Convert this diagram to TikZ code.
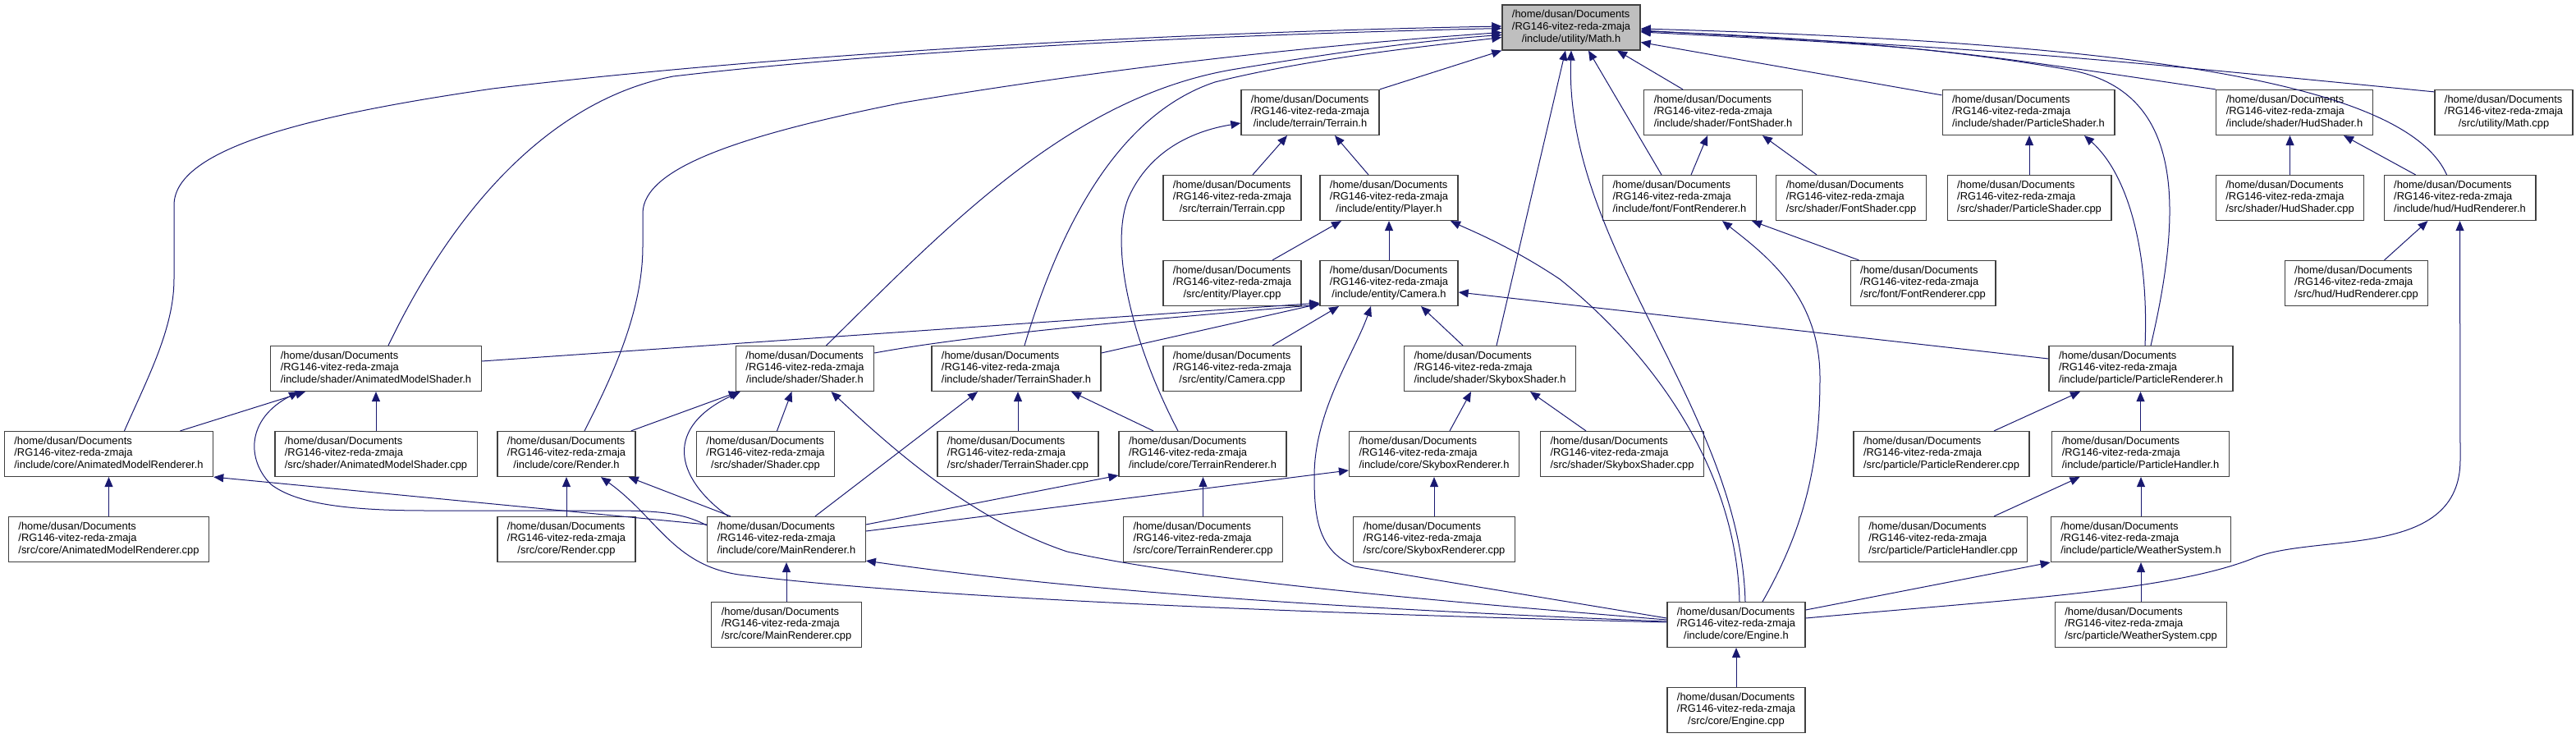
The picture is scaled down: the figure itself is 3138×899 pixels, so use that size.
\documentclass[tikz,border=0pt]{standalone}
\usepackage{fontspec}
\setmainfont{Liberation Sans}
\usetikzlibrary{arrows.meta}
\definecolor{cedge}{HTML}{191970}
\definecolor{cbox}{HTML}{404040}
\definecolor{cgray}{HTML}{BFBFBF}
\tikzset{file/.style={draw=cbox,line width=0.65pt,fill=white,inner xsep=6pt,inner ysep=2.7pt,font=\fontsize{6.45}{7.35}\selectfont},
  inc/.style={cedge,line width=0.5pt,-{Triangle[length=6pt,width=5pt]}}}
\newcommand{\fpath}[1]{\begin{tabular}{@{}l@{}}/home/dusan/Documents\\/RG146-vitez-reda-zmaja\\\multicolumn{1}{@{}c@{}}{#1}\end{tabular}}

\begin{document}
\begin{tikzpicture}[x=0.5pt,y=-0.5pt]
\useasboundingbox (0,0) rectangle (3138,899);
\node[file,fill=cgray] (mathh) at (1914,33.5) {\fpath{/include/utility/Math.h}};
\foreach \nm/\xx/\yy/\lab in {%
   terrainh/1596/137/{/include/terrain/Terrain.h},
   fontshaderh/2099/137/{/include/shader/FontShader.h},
   particleshaderh/2471/137/{/include/shader/ParticleShader.h},
   hudshaderh/2795/137/{/include/shader/HudShader.h},
   mathcpp/3050/137/{/src/utility/Math.cpp},
   terraincpp/1501/241/{/src/terrain/Terrain.cpp},
   playerh/1692/241/{/include/entity/Player.h},
   fontrendh/2046/241/{/include/font/FontRenderer.h},
   fontshadercpp/2255/241/{/src/shader/FontShader.cpp},
   particleshadercpp/2472/241/{/src/shader/ParticleShader.cpp},
   hudshadercpp/2789.5/241/{/src/shader/HudShader.cpp},
   hudrendh/2996.5/241/{/include/hud/HudRenderer.h},
   playercpp/1501/345/{/src/entity/Player.cpp},
   camerah/1692/345/{/include/entity/Camera.h},
   fontrendcpp/2342.5/345/{/src/font/FontRenderer.cpp},
   hudrendcpp/2870.5/345/{/src/hud/HudRenderer.cpp},
   animshaderh/458/449/{/include/shader/AnimatedModelShader.h},
   shaderh/980.5/449/{/include/shader/Shader.h},
   terrainshaderh/1238/449/{/include/shader/TerrainShader.h},
   cameracpp/1501/449/{/src/entity/Camera.cpp},
   skyboxshaderh/1815/449/{/include/shader/SkyboxShader.h},
   particlerendh/2608/449/{/include/particle/ParticleRenderer.h},
   animrendh/132.5/553/{/include/core/AnimatedModelRenderer.h},
   animshadercpp/458/553/{/src/shader/AnimatedModelShader.cpp},
   renderh/690/553/{/include/core/Render.h},
   shadercpp/932.5/553/{/src/shader/Shader.cpp},
   terrainshadercpp/1240/553/{/src/shader/TerrainShader.cpp},
   terrainrendh/1465/553/{/include/core/TerrainRenderer.h},
   skyboxrendh/1747/553/{/include/core/SkyboxRenderer.h},
   skyboxshadercpp/1976/553/{/src/shader/SkyboxShader.cpp},
   particlerendcpp/2365/553/{/src/particle/ParticleRenderer.cpp},
   particlehandlerh/2607.5/553/{/include/particle/ParticleHandler.h},
   animrendcpp/132.5/657/{/src/core/AnimatedModelRenderer.cpp},
   rendercpp/690/657/{/src/core/Render.cpp},
   mainrendh/958/657/{/include/core/MainRenderer.h},
   terrainrendcpp/1465.5/657/{/src/core/TerrainRenderer.cpp},
   skyboxrendcpp/1747/657/{/src/core/SkyboxRenderer.cpp},
   particlehandlercpp/2367/657/{/src/particle/ParticleHandler.cpp},
   weatherh/2608/657/{/include/particle/WeatherSystem.h},
   mainrendcpp/958/761/{/src/core/MainRenderer.cpp},
   engineh/2115/761/{/include/core/Engine.h},
   weathercpp/2608/761/{/src/particle/WeatherSystem.cpp},
   enginecpp/2115/865/{/src/core/Engine.cpp}}{
  \node[file] (\nm) at (\xx,\yy) {\fpath{\lab}};
}
% straight up
\foreach \tl/\hd in {particleshadercpp/particleshaderh,camerah/playerh,animshadercpp/animshaderh,
   animrendcpp/animrendh,terrainshadercpp/terrainshaderh,rendercpp/renderh,terrainrendcpp/terrainrendh,
   skyboxrendcpp/skyboxrendh,mainrendcpp/mainrendh,enginecpp/engineh,particlehandlerh/particlerendh,
   weatherh/particlehandlerh,weathercpp/weatherh,hudshadercpp/hudshaderh}
  \draw[inc] (\tl.north) -- (\tl.north |- \hd.south);
% into Math.h
\draw[inc] (terrainh.north east) -- (mathh.south west);
\draw[inc] ([xshift=-24.5pt]fontshaderh.north) -- ([xshift=28pt]mathh.south);
\draw[inc] ([yshift=-3.5pt]particleshaderh.north west) -- ([yshift=-9pt]mathh.east);
\draw[inc] ([xshift=4pt]skyboxshaderh.north) -- ([xshift=-3.5pt]mathh.south);
\draw[inc] ([xshift=-11pt]fontrendh.north) -- ([xshift=10.5pt]mathh.south);
\draw[inc] (hudshaderh.north west) .. controls (2351,57) .. ([yshift=-2.75pt]mathh.east);
\draw[inc] ([yshift=-1.5pt]mathcpp.north west) .. controls (2477,64) .. ([yshift=-1.75pt]mathh.east);
\draw[inc] ([xshift=-8pt]hudrendh.north) .. controls (2930,100) and (2600,52) .. ([yshift=-0.75pt]mathh.east);
\draw[inc] ([xshift=6pt]particlerendh.north) .. controls (2660,250) and (2660,110) .. (2520,85)
   .. controls (2380,60) and (2200,45) .. ([yshift=-2.25pt]mathh.east);
\draw[inc] ([xshift=7.5pt]animshaderh.north) .. controls (560,240) and (680,120) .. (820,93)
   .. controls (1100,60) and (1500,42) .. ([yshift=-0.5pt]mathh.west);
\draw[inc] ([xshift=9.5pt]animrendh.north) .. controls (180,460) and (212,400) .. (212,340) -- (212,250)
   .. controls (212,180) and (380,140) .. (600,108) .. controls (1000,60) and (1500,38) .. ([yshift=0.75pt]mathh.west);
\draw[inc] ([xshift=11pt]renderh.north) .. controls (745,460) and (783,380) .. (783,300) -- (783,260)
   .. controls (783,205) and (900,165) .. (1100,125) .. controls (1400,75) and (1650,52) .. ([yshift=-3pt]mathh.west);
\draw[inc] ([xshift=13pt]shaderh.north) .. controls (1150,280) and (1300,120) .. (1500,85)
   .. controls (1650,60) and (1750,48) .. ([yshift=-4.5pt]mathh.west);
\draw[inc] ([xshift=5pt]terrainshaderh.north) .. controls (1290,280) and (1360,140) .. (1480,100)
   .. controls (1600,70) and (1750,55) .. ([yshift=-6pt]mathh.west);
\draw[inc] ([xshift=5.5pt]engineh.north) .. controls (2120,500) and (1905,300) .. (mathh.south);
% second row
\draw[inc] ([xshift=12.5pt]terraincpp.north) -- ([xshift=-14pt]terrainh.south);
\draw[inc] ([xshift=-12.5pt]playerh.north) -- ([xshift=15pt]terrainh.south);
\draw[inc] ([xshift=-15pt]terrainrendh.north) .. controls (1380,420) and (1350,300) .. (1375,240)
   .. controls (1400,185) and (1450,160) .. ([yshift=-6.5pt]terrainh.west);
\draw[inc] ([xshift=24.5pt]playercpp.north) -- ([xshift=-29pt]playerh.south);
\draw[inc] ([xshift=2pt]engineh.north) .. controls (2115,560) and (2000,420) .. (1900,340)
   .. controls (1840,300) and (1790,280) .. ([xshift=37.5pt]playerh.south);
\draw[inc] ([xshift=7pt]fontrendh.north) -- ([xshift=-9.5pt]fontshaderh.south);
\draw[inc] ([xshift=-21pt]fontshadercpp.north) -- ([xshift=24pt]fontshaderh.south);
\draw[inc] ([xshift=-39pt]fontrendcpp.north) -- ([xshift=44pt]fontrendh.south);
\draw[inc] ([xshift=16pt]engineh.north) .. controls (2200,640) and (2217,560) .. (2217,460)
   .. controls (2217,360) and (2150,310) .. ([xshift=26pt]fontrendh.south);
\draw[inc] ([xshift=2.5pt]particlerendh.north) .. controls (2618,300) and (2590,210) .. ([xshift=34pt]particleshaderh.south);
\draw[inc] ([xshift=-27pt]hudrendh.north) -- ([xshift=30pt]hudshaderh.south);
\draw[inc] ([xshift=17pt]hudrendcpp.north) -- ([xshift=-19.5pt]hudrendh.south);
\draw[inc] ([yshift=4pt]engineh.east) .. controls (2450,730) and (2650,720) .. (2750,678)
   .. controls (2830,650) and (2997,680) .. (2997,560) -- (hudrendh.south);
% Camera.h
\draw[inc] ([yshift=4.5pt]animshaderh.east) -- ([yshift=2pt]camerah.south west);
\draw[inc] ([yshift=9.5pt]shaderh.east) .. controls (1200,405) and (1450,385) .. ([yshift=1pt]camerah.south west);
\draw[inc] ([yshift=9.5pt]terrainshaderh.east) -- ([yshift=1.5pt]camerah.south west);
\draw[inc] ([xshift=24.5pt]cameracpp.north) -- ([xshift=-30.5pt]camerah.south);
\draw[inc] ([xshift=-16.5pt]skyboxshaderh.north) -- ([xshift=19.5pt]camerah.south);
\draw[inc] ([yshift=6pt]particlerendh.west) -- ([yshift=-5.5pt]camerah.east);
\draw[inc] ([yshift=4pt]engineh.west) -- (1650,690) .. controls (1605,670) and (1601,630) .. (1601,580)
   .. controls (1601,500) and (1650,430) .. ([xshift=-11pt]camerah.south);
% lower rows
\draw[inc] ([xshift=43.5pt]animrendh.north) -- ([xshift=-43pt]animshaderh.south);
\draw[inc] ([yshift=8.5pt]mainrendh.west) .. controls (830,624) and (800,622) .. (740,622) -- (520,622)
   .. controls (420,622) and (360,613) .. (330,590) .. controls (300,560) and (300,510) .. ([xshift=-47pt]animshaderh.south);
\draw[inc] ([yshift=9pt]mainrendh.west) -- (animrendh.south east);
\draw[inc] ([xshift=-3pt]renderh.north east) -- ([xshift=2pt]shaderh.south west);
\draw[inc] ([xshift=-35.5pt]mainrendh.north) .. controls (820,580) and (810,520) .. ([xshift=3pt]shaderh.south west);
\draw[inc] ([xshift=7pt]shadercpp.north) -- ([xshift=-8pt]shaderh.south);
\draw[inc] ([yshift=3pt]engineh.west) .. controls (1700,728) and (1450,705) .. (1300,672)
   .. controls (1180,632) and (1080,540) .. ([xshift=16pt]shaderh.south);
\draw[inc] ([xshift=17.5pt]mainrendh.north) -- ([xshift=-23.5pt]terrainshaderh.south);
\draw[inc] ([xshift=-30pt]terrainrendh.north) -- ([xshift=33.5pt]terrainshaderh.south);
\draw[inc] ([xshift=-34pt]mainrendh.north) -- ([xshift=-4.5pt]renderh.south east);
\draw[inc] ([yshift=1.5pt]engineh.west) .. controls (1500,745) and (1100,725) .. (900,700)
   .. controls (820,688) and (800,630) .. ([xshift=21pt]renderh.south);
\draw[inc] ([yshift=9pt]mainrendh.east) -- ([yshift=1pt]terrainrendh.south west);
\draw[inc] ([yshift=5pt]mainrendh.east) -- ([yshift=-10pt]skyboxrendh.west);
\draw[inc] ([xshift=9.5pt]skyboxrendh.north) -- ([xshift=-11.5pt]skyboxshaderh.south);
\draw[inc] ([xshift=-22pt]skyboxshadercpp.north) -- ([xshift=24.5pt]skyboxshaderh.south);
\draw[inc] ([yshift=2pt]engineh.west) .. controls (1600,740) and (1300,718) .. ([yshift=1pt]mainrendh.south east);
\draw[inc] ([xshift=32pt]particlerendcpp.north) -- ([xshift=-37pt]particlerendh.south);
\draw[inc] ([xshift=31pt]particlehandlercpp.north) -- ([xshift=-37pt]particlehandlerh.south);
\draw[inc] ([yshift=9pt]engineh.east) -- (weatherh.south west);
\end{tikzpicture}
\end{document}
